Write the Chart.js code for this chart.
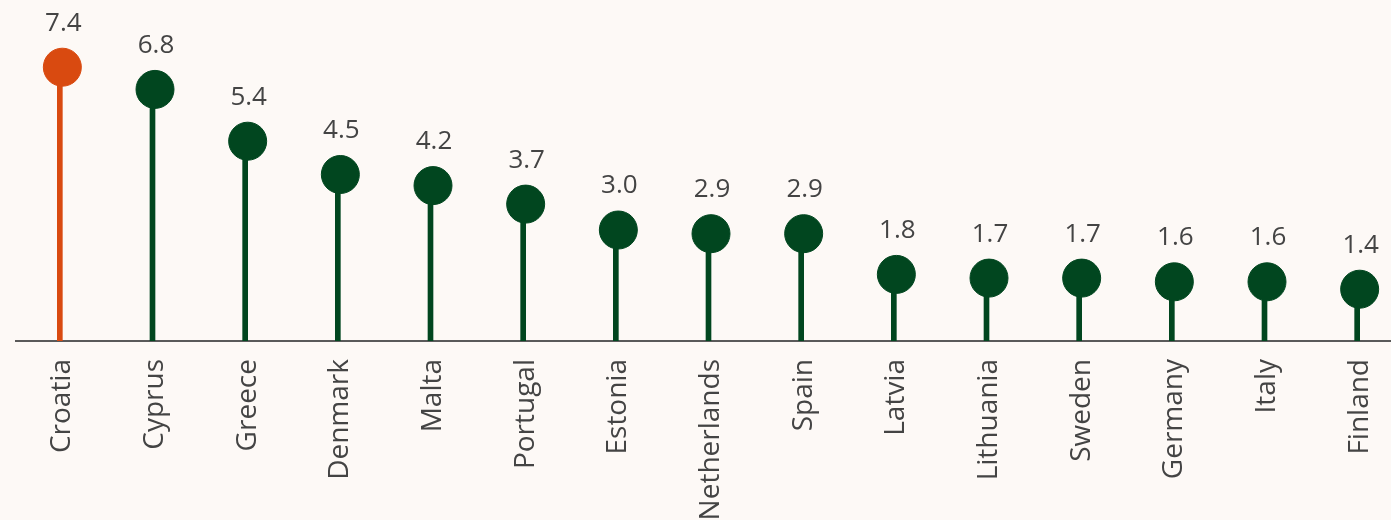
<!DOCTYPE html>
<html lang="en">
  <head>
    <meta charset="UTF-8" />
    <title>Lollipop chart</title>
    <script src="https://cdn.jsdelivr.net/npm/chart.js@4"></script>
    <style>
      html, body { margin: 0; padding: 0; background: #fdf9f6; overflow: hidden; }
      /* a bit wider than the window: the last category's slot runs past the right edge */
      #wrap { width: 1406px; height: 520px; position: relative; }
    </style>
  </head>
  <body>
    <div id="wrap"><canvas id="myChart"></canvas></div>

    <script>
      const countries = ['Croatia', 'Cyprus', 'Greece', 'Denmark', 'Malta', 'Portugal', 'Estonia',
        'Netherlands', 'Spain', 'Latvia', 'Lithuania', 'Sweden', 'Germany', 'Italy', 'Finland'];
      const values = [7.4, 6.8, 5.4, 4.5, 4.2, 3.7, 3.0, 2.9, 2.9, 1.8, 1.7, 1.7, 1.6, 1.6, 1.4];
      const highlight = 'Croatia';

      const orange = '#d94a10';
      const green = '#01461f';
      const colors = countries.map(c => c === highlight ? orange : green);

      // value labels above the dots
      const valueLabels = {
        id: 'valueLabels',
        afterDatasetsDraw(chart) {
          const ctx = chart.ctx;
          const meta = chart.getDatasetMeta(2);
          ctx.save();
          ctx.font = '26px "Open Sans"';
          ctx.fillStyle = '#444444';
          ctx.textAlign = 'center';
          ctx.textBaseline = 'middle';
          meta.data.forEach((pt, i) => {
            ctx.fillText(values[i].toFixed(1), pt.x + 1, pt.y - 44);
          });
          ctx.restore();
        }
      };

      const ctx = document.getElementById('myChart').getContext('2d');
      const myChart = new Chart(ctx, {
        type: 'bar',
        data: {
          labels: countries,
          datasets: [
            {
              // invisible spacer so the stem sits a touch right of the dot centre
              type: 'bar',
              data: values,
              backgroundColor: 'rgba(0,0,0,0)',
              barThickness: 5,
              order: 3
            },
            {
              type: 'bar',
              data: values,
              backgroundColor: colors,
              barThickness: 5,
              order: 2
            },
            {
              type: 'line',
              data: values,
              showLine: false,
              pointRadius: 19,
              pointBorderWidth: 1,
              pointBackgroundColor: colors,
              pointBorderColor: colors,
              order: 1
            }
          ]
        },
        options: {
          responsive: true,
          maintainAspectRatio: false,
          animation: false,
          layout: { autoPadding: false, padding: { left: 16, right: 0, top: 45, bottom: 0 } },
          plugins: { legend: { display: false }, tooltip: { enabled: false } },
          scales: {
            x: {
              grid: { display: false, drawTicks: false },
              border: { display: true, color: '#5a5a5a', width: 2 },
              ticks: {
                color: '#444444',
                font: { family: 'Open Sans', size: 28 },
                minRotation: 90,
                maxRotation: 90,
                padding: 18,
                autoSkip: false
              },
              afterFit(scale) {
                scale.height = 179;
                scale.paddingLeft = 0;
                scale.paddingRight = 0;
              }
            },
            y: {
              display: false,
              min: 0,
              max: 8
            }
          }
        },
        plugins: [valueLabels]
      });
    </script>
  </body>
</html>
